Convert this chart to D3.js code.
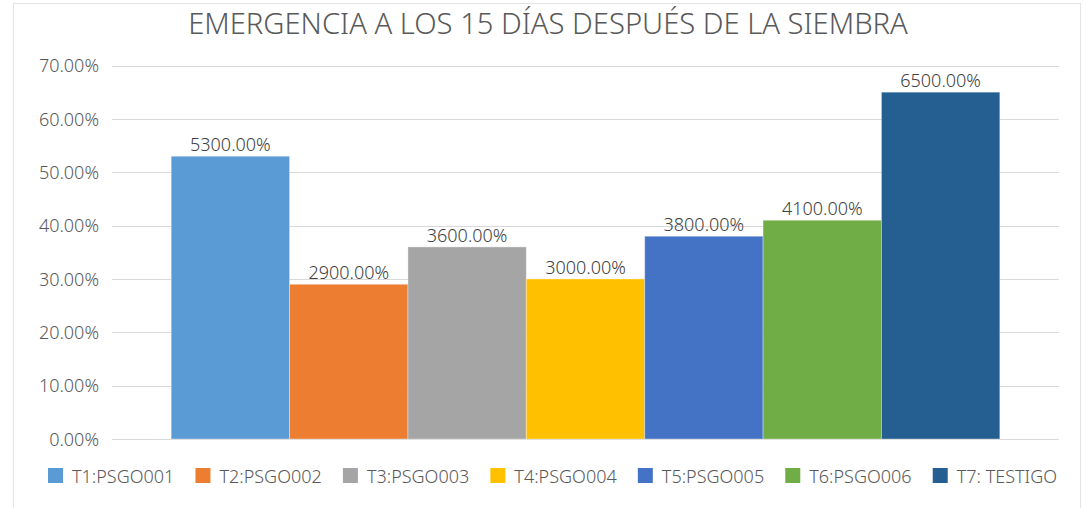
<!DOCTYPE html>
<html>
<head>
<meta charset="utf-8">
<script src="https://cdn.jsdelivr.net/npm/d3@7"></script>
<style>
  html, body { margin: 0; padding: 0; background: #fff; }
  svg { display: block; }
  text { font-family: "Noto Sans", "Open Sans", sans-serif; }
</style>
</head>
<body>
<svg id="chart" width="1087" height="508"></svg>
<script>
const title = "EMERGENCIA A LOS 15 DÍAS DESPUÉS DE LA SIEMBRA";
const series = ["T1:PSGO001", "T2:PSGO002", "T3:PSGO003", "T4:PSGO004", "T5:PSGO005", "T6:PSGO006", "T7: TESTIGO"];
const values = [0.53, 0.29, 0.36, 0.30, 0.38, 0.41, 0.65];
const valueLabels = ["5300.00%", "2900.00%", "3600.00%", "3000.00%", "3800.00%", "4100.00%", "6500.00%"];
const colors = ["#5B9BD5", "#ED7D31", "#A5A5A5", "#FFC000", "#4472C4", "#70AD47", "#255E91"];
const yTicks = [0, 0.1, 0.2, 0.3, 0.4, 0.5, 0.6, 0.7];

const svg = d3.select("#chart");

// chart frame
svg.append("rect")
  .attr("x", 13.5).attr("y", 3.5)
  .attr("width", 1067).attr("height", 520)
  .attr("fill", "#fff").attr("stroke", "#e3e3e3").attr("stroke-width", 1);

const plot = { left: 112, right: 1059, top: 65.5, bottom: 439 };

const y = d3.scaleLinear().domain([0, 0.7]).range([plot.bottom, plot.top]);
const x = d3.scaleBand().domain(series).range([plot.left, plot.right])
  .paddingInner(0).paddingOuter(0.5);

// gridlines
svg.append("g").selectAll("line").data(yTicks).join("line")
  .attr("x1", plot.left).attr("x2", plot.right)
  .attr("y1", d => Math.round(y(d)) + 0.5).attr("y2", d => Math.round(y(d)) + 0.5)
  .attr("stroke", "#d9d9d9").attr("stroke-width", 1);

// y axis labels
const yAxis = d3.axisLeft(y).tickValues(yTicks).tickSize(0).tickPadding(0)
  .tickFormat(d => (d * 100).toFixed(2) + "%");
const gy = svg.append("g").attr("transform", `translate(99,0)`).call(yAxis);
gy.select(".domain").remove();
gy.selectAll("text")
  .attr("fill", "#595959").attr("font-size", 18)
  .attr("font-weight", 300)
  .attr("font-family", '"Noto Sans", sans-serif')
  .attr("dy", "0.35em");

// bars
svg.append("g").selectAll("rect").data(series).join("rect")
  .attr("x", d => x(d))
  .attr("y", (d, i) => y(values[i]))
  .attr("width", x.bandwidth())
  .attr("height", (d, i) => y(0) - y(values[i]))
  .attr("fill", (d, i) => colors[i])
  .attr("stroke", "rgba(255,255,255,0.35)").attr("stroke-width", 1);

// value labels
svg.append("g").selectAll("text").data(series).join("text")
  .attr("x", d => x(d) + x.bandwidth() / 2)
  .attr("y", (d, i) => y(values[i]) - 5)
  .attr("text-anchor", "middle")
  .attr("fill", "#404040").attr("font-size", 18)
  .attr("font-weight", 300)
  .text((d, i) => valueLabels[i]);

// title
const t = svg.append("text")
  .attr("x", 548).attr("y", 34)
  .attr("text-anchor", "middle")
  .attr("fill", "#595959").attr("font-size", 26)
  .attr("font-weight", 300)
  .text(title);
const tw = t.node().getComputedTextLength();
t.attr("font-size", 26 * 720 / tw);

// legend
const sq = 15, gapText = 9;
const lg = svg.append("g");
const items = lg.selectAll("g").data(series).join("g");
items.append("rect")
  .attr("width", sq).attr("height", sq)
  .attr("y", 468)
  .attr("fill", (d, i) => colors[i]);
items.append("text")
  .attr("x", sq + gapText).attr("y", 483)
  .attr("fill", "#595959").attr("font-size", 18)
  .attr("font-weight", 300)
  .text(d => d);
const widths = [];
items.each(function() {
  widths.push(sq + gapText + d3.select(this).select("text").node().getComputedTextLength());
});
const totalTarget = 1057 - 48;
const sumW = d3.sum(widths);
const gap = (totalTarget - sumW) / (series.length - 1);
let cx = 48;
items.attr("transform", (d, i) => {
  const tr = `translate(${cx},0)`;
  cx += widths[i] + gap;
  return tr;
});
</script>
</body>
</html>
